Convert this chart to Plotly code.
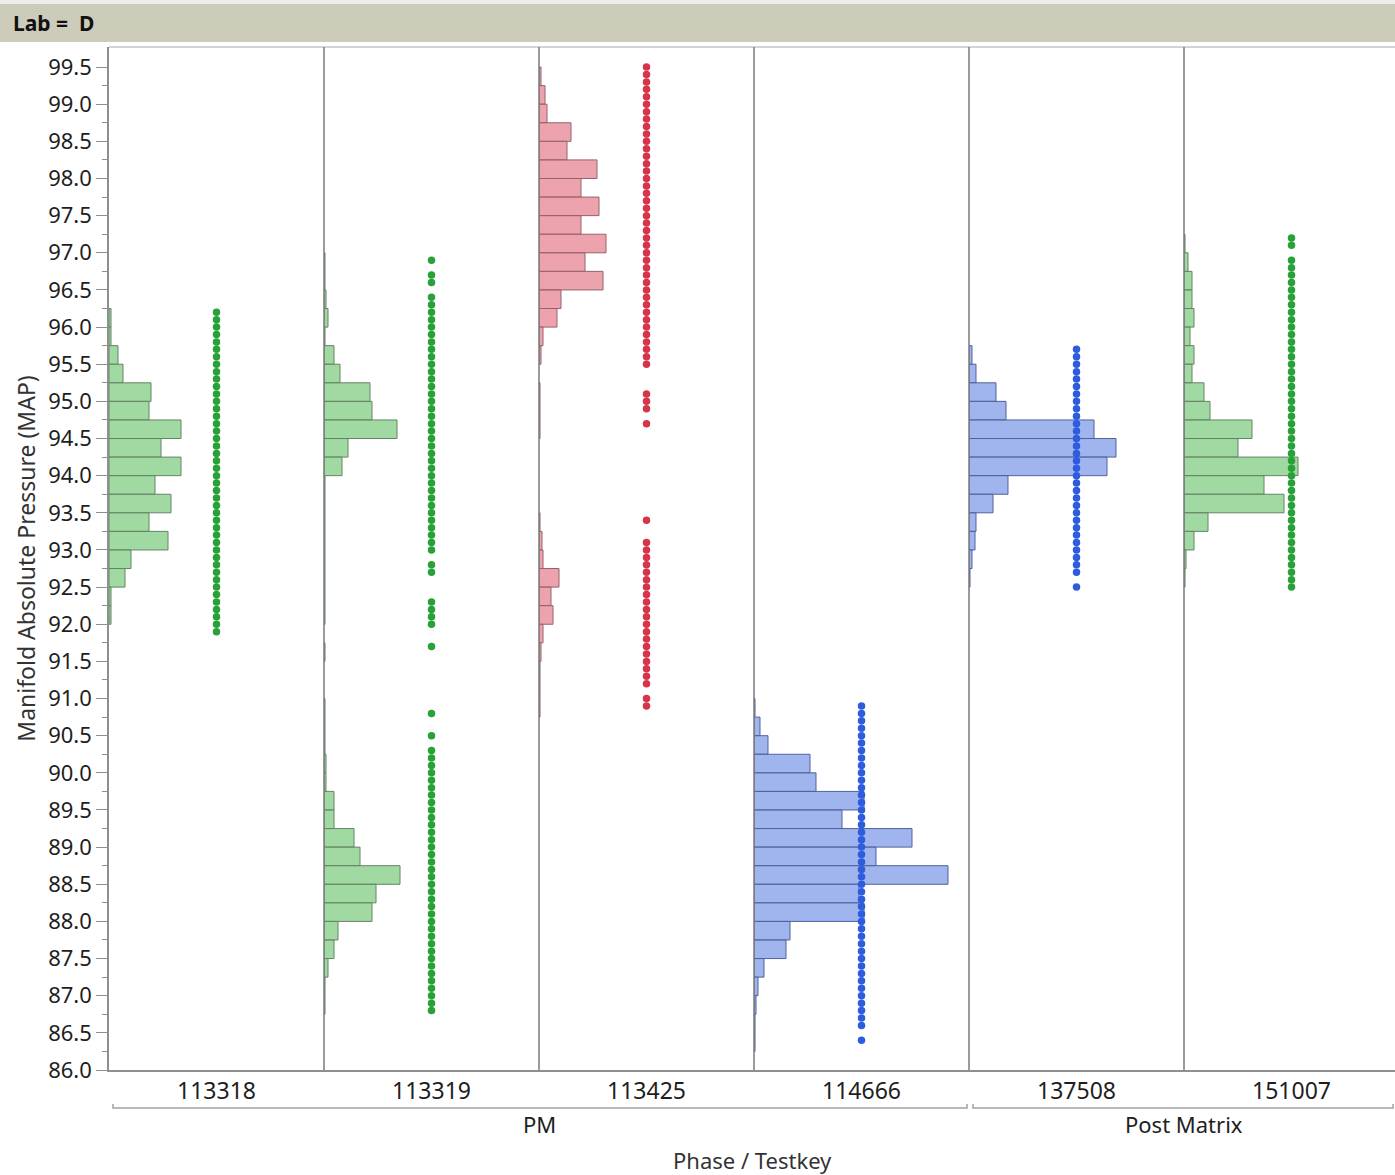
import plotly.graph_objects as go
from plotly.subplots import make_subplots

# ---------------- data ----------------
testkeys = ["113318", "113319", "113425", "114666", "137508", "151007"]
phases = ["PM", "PM", "PM", "PM", "Post Matrix", "Post Matrix"]

BIN_WIDTH = 0.25

# Histogram counts per testkey, listed from the highest bin downward.
# hist_top_* is the lower edge of the first (highest) bin.
hist_top_113318 = 96.0
hist_113318 = [2, 2, 9, 14, 42, 40, 72, 52, 72, 46, 62, 40, 59, 22, 16, 2, 2]

hist_top_113319 = 96.75
hist_113319 = [1, 1, 2, 4, 1, 10, 16, 46, 48, 73, 24, 18, 1, 1, 1, 1, 1, 1, 1, 1,
               0, 1, 0, 0, 1, 1, 1, 2, 2, 10, 10, 30, 36, 76, 52, 48, 14, 10, 4, 1, 1]

hist_top_113425 = 99.25
hist_113425 = [2, 6, 8, 32, 28, 58, 42, 60, 42, 67, 46, 64, 22, 18, 4, 2, 0, 1, 1, 1,
               0, 0, 0, 0, 1, 3, 4, 20, 12, 14, 4, 2, 1, 1, 1]

hist_top_114666 = 90.75
hist_114666 = [1, 6, 14, 56, 62, 110, 88, 158, 122, 194, 105, 110, 36, 32, 10, 4, 2, 1, 1]

hist_top_137508 = 95.5
hist_137508 = [3, 7, 27, 37, 125, 147, 138, 39, 24, 7, 6, 3, 1]

hist_top_151007 = 97.0
hist_151007 = [1, 4, 8, 8, 10, 6, 10, 8, 20, 26, 68, 54, 114, 80, 100, 24, 10, 2, 1]

# Distinct MAP readings per testkey
map_113318 = [96.2, 96.1, 96.0, 95.9, 95.8, 95.7, 95.6, 95.5, 95.4, 95.3, 95.2, 95.1,
              95.0, 94.9, 94.8, 94.7, 94.6, 94.5, 94.4, 94.3, 94.2, 94.1, 94.0, 93.9,
              93.8, 93.7, 93.6, 93.5, 93.4, 93.3, 93.2, 93.1, 93.0, 92.9, 92.8, 92.7,
              92.6, 92.5, 92.4, 92.3, 92.2, 92.1, 92.0, 91.9]

map_113319 = [96.9, 96.7, 96.6, 96.4, 96.3, 96.2, 96.1, 96.0, 95.9, 95.8, 95.7, 95.6,
              95.5, 95.4, 95.3, 95.2, 95.1, 95.0, 94.9, 94.8, 94.7, 94.6, 94.5, 94.4,
              94.3, 94.2, 94.1, 94.0, 93.9, 93.8, 93.7, 93.6, 93.5, 93.4, 93.3, 93.2,
              93.1, 93.0, 92.8, 92.7, 92.3, 92.2, 92.1, 92.0, 91.7, 90.8, 90.5, 90.3,
              90.2, 90.1, 90.0, 89.9, 89.8, 89.7, 89.6, 89.5, 89.4, 89.3, 89.2, 89.1,
              89.0, 88.9, 88.8, 88.7, 88.6, 88.5, 88.4, 88.3, 88.2, 88.1, 88.0, 87.9,
              87.8, 87.7, 87.6, 87.5, 87.4, 87.3, 87.2, 87.1, 87.0, 86.9, 86.8]

map_113425 = [99.5, 99.4, 99.3, 99.2, 99.1, 99.0, 98.9, 98.8, 98.7, 98.6, 98.5, 98.4,
              98.3, 98.2, 98.1, 98.0, 97.9, 97.8, 97.7, 97.6, 97.5, 97.4, 97.3, 97.2,
              97.1, 97.0, 96.9, 96.8, 96.7, 96.6, 96.5, 96.4, 96.3, 96.2, 96.1, 96.0,
              95.9, 95.8, 95.7, 95.6, 95.5, 95.1, 95.0, 94.9, 94.7, 93.4, 93.1, 93.0,
              92.9, 92.8, 92.7, 92.6, 92.5, 92.4, 92.3, 92.2, 92.1, 92.0, 91.9, 91.8,
              91.7, 91.6, 91.5, 91.4, 91.3, 91.2, 91.0, 90.9]

map_114666 = [90.9, 90.8, 90.7, 90.6, 90.5, 90.4, 90.3, 90.2, 90.1, 90.0, 89.9, 89.8,
              89.7, 89.6, 89.5, 89.4, 89.3, 89.2, 89.1, 89.0, 88.9, 88.8, 88.7, 88.6,
              88.5, 88.4, 88.3, 88.2, 88.1, 88.0, 87.9, 87.8, 87.7, 87.6, 87.5, 87.4,
              87.3, 87.2, 87.1, 87.0, 86.9, 86.8, 86.7, 86.6, 86.4]

map_137508 = [95.7, 95.6, 95.5, 95.4, 95.3, 95.2, 95.1, 95.0, 94.9, 94.8, 94.7, 94.6,
              94.5, 94.4, 94.3, 94.2, 94.1, 94.0, 93.9, 93.8, 93.7, 93.6, 93.5, 93.4,
              93.3, 93.2, 93.1, 93.0, 92.9, 92.8, 92.7, 92.5]

map_151007 = [97.2, 97.1, 96.9, 96.8, 96.7, 96.6, 96.5, 96.4, 96.3, 96.2, 96.1, 96.0,
              95.9, 95.8, 95.7, 95.6, 95.5, 95.4, 95.3, 95.2, 95.1, 95.0, 94.9, 94.8,
              94.7, 94.6, 94.5, 94.4, 94.3, 94.2, 94.1, 94.0, 93.9, 93.8, 93.7, 93.6,
              93.5, 93.4, 93.3, 93.2, 93.1, 93.0, 92.9, 92.8, 92.7, 92.6, 92.5]

y_tick_labels = ["86.0", "86.5", "87.0", "87.5", "88.0", "88.5", "89.0", "89.5",
                 "90.0", "90.5", "91.0", "91.5", "92.0", "92.5", "93.0", "93.5",
                 "94.0", "94.5", "95.0", "95.5", "96.0", "96.5", "97.0", "97.5",
                 "98.0", "98.5", "99.0", "99.5"]

histograms = {
    "113318": (hist_top_113318, hist_113318),
    "113319": (hist_top_113319, hist_113319),
    "113425": (hist_top_113425, hist_113425),
    "114666": (hist_top_114666, hist_114666),
    "137508": (hist_top_137508, hist_137508),
    "151007": (hist_top_151007, hist_151007),
}
readings = {
    "113318": map_113318, "113319": map_113319, "113425": map_113425,
    "114666": map_114666, "137508": map_137508, "151007": map_151007,
}

# ---------------- styling ----------------
PALETTES = {
    "green": dict(fill="rgba(128,204,131,0.75)", edge="rgb(100,132,100)", dot="rgb(40,162,56)"),
    "red": dict(fill="rgba(230,132,146,0.75)", edge="rgb(150,98,106)", dot="rgb(214,52,75)"),
    "blue": dict(fill="rgba(128,155,231,0.75)", edge="rgb(80,98,158)", dot="rgb(45,92,222)"),
}
panel_palette = {"113318": "green", "113319": "green", "113425": "red",
                 "114666": "blue", "137508": "blue", "151007": "green"}

FONT = "Noto Sans, Open Sans, sans-serif"
AXIS_GREY = "#8f8f8f"
TEXT = "#1e1e1e"

W, H = 1395, 1175
M_L, M_R, M_T, M_B = 109, 0, 47, 105
PLOT_W = W - M_L - M_R
PLOT_H = H - M_T - M_B
PANEL_PX = 215          # panel width in pixels; the last panel runs off the right edge
Y_RANGE = [86.0, 99.77]


def paper_y(py):
    return (H - M_B - py) / PLOT_H


def paper_x(px):
    return (px - M_L) / PLOT_W


n = len(testkeys)
domains = []
for i in range(n):
    a = i * PANEL_PX / PLOT_W
    b = min(1.0, (i + 1) * PANEL_PX / PLOT_W)
    domains.append((a, b))

fig = make_subplots(rows=1, cols=n, shared_yaxes=True, horizontal_spacing=0)

for i, key in enumerate(testkeys, start=1):
    pal = PALETTES[panel_palette[key]]
    top, counts = histograms[key]
    lows = [top - k * BIN_WIDTH for k in range(len(counts))]
    ys = [lo + BIN_WIDTH / 2 for lo, c in zip(lows, counts) if c > 0]
    xs = [c for c in counts if c > 0]

    vals = readings[key]
    fig.add_trace(go.Scatter(
        x=[PANEL_PX / 2] * len(vals), y=vals, mode="markers",
        marker=dict(size=7.5, color=pal["dot"], line=dict(width=0)),
        showlegend=False, hoverinfo="y"), row=1, col=i)

    fig.add_trace(go.Bar(
        orientation="h", y=ys, x=xs, base=0, width=BIN_WIDTH,
        marker=dict(color=pal["fill"], line=dict(color=pal["edge"], width=1)),
        showlegend=False), row=1, col=i)

fig.update_xaxes(showgrid=False, zeroline=False, showline=True,
                 linecolor=AXIS_GREY, linewidth=1.5, ticks="",
                 tickfont=dict(family=FONT, size=23, color=TEXT), fixedrange=True)
for i, key in enumerate(testkeys, start=1):
    a, b = domains[i - 1]
    fig.update_xaxes(domain=[a, b], range=[0, (b - a) * PLOT_W],
                     tickvals=[PANEL_PX / 2], ticktext=[key], row=1, col=i)

y_tick_values = [float(t) for t in y_tick_labels]
fig.update_yaxes(range=Y_RANGE, showgrid=False, zeroline=False, fixedrange=True)
fig.update_yaxes(
    row=1, col=1, tickmode="array", tickvals=y_tick_values, ticktext=y_tick_labels,
    ticks="outside", ticklen=11, tickwidth=1, tickcolor=AXIS_GREY,
    showline=True, linecolor=AXIS_GREY, linewidth=1.5,
    minor=dict(tickmode="array", tickvals=[v + 0.25 for v in y_tick_values[:-1]],
               ticks="outside", ticklen=5, tickcolor=AXIS_GREY),
    tickfont=dict(family=FONT, size=22, color=TEXT),
    title=dict(text="Manifold Absolute Pressure (MAP)", standoff=6,
               font=dict(family=FONT, size=23, color="#333333")),
)

shapes = []
# header strip
shapes.append(dict(type="rect", xref="paper", yref="paper", x0=paper_x(0), x1=1.0,
                   y0=paper_y(4), y1=paper_y(0), fillcolor="#ececec", line=dict(width=0),
                   layer="below"))
shapes.append(dict(type="rect", xref="paper", yref="paper", x0=paper_x(0), x1=1.0,
                   y0=paper_y(42), y1=paper_y(4), fillcolor="#cdcbb9", line=dict(width=0),
                   layer="below"))
# plot frame top edge
shapes.append(dict(type="line", xref="paper", yref="paper", x0=0, x1=1, y0=1, y1=1,
                   line=dict(color="#c4c4c4", width=1.5)))
# panel dividers
for i in range(2, n + 1):
    shapes.append(dict(type="line", xref=f"x{i} domain", yref="paper", x0=0, x1=0,
                       y0=0, y1=1, line=dict(color="#7a7a7a", width=1.5)))

annotations = []
# phase brackets under the testkey labels
groups = []
for idx, ph in enumerate(phases):
    if groups and groups[-1][0] == ph:
        groups[-1][2] = idx
    else:
        groups.append([ph, idx, idx])
inset = 4 / PLOT_W
yb, yt = paper_y(1108), paper_y(1104)
for ph, a, b in groups:
    x0 = domains[a][0] + inset
    x1 = min(domains[b][0] + PANEL_PX / PLOT_W, 1.0) - inset / 2
    xc = (domains[a][0] + domains[b][0] + PANEL_PX / PLOT_W) / 2
    shapes.append(dict(type="path", xref="paper", yref="paper",
                       path=f"M {x0},{yt} L {x0},{yb} L {x1},{yb} L {x1},{yt}",
                       line=dict(color="#a3a3a3", width=1.5)))
    annotations.append(dict(text=ph, xref="paper", yref="paper", x=xc,
                            y=paper_y(1124), xanchor="center", yanchor="middle",
                            showarrow=False, font=dict(family=FONT, size=22, color=TEXT)))

annotations.append(dict(text="Phase / Testkey", xref="paper", yref="paper", x=0.5,
                        y=paper_y(1160), xanchor="center", yanchor="middle",
                        showarrow=False, font=dict(family=FONT, size=22, color="#333333")))
annotations.append(dict(text="<b>Lab = &nbsp;D</b>", xref="paper", yref="paper",
                        x=paper_x(11), y=paper_y(23), xanchor="left", yanchor="middle",
                        showarrow=False, font=dict(family=FONT, size=21, color="#111111")))

fig.update_layout(
    width=W, height=H, margin=dict(l=M_L, r=M_R, t=M_T, b=M_B, pad=0),
    paper_bgcolor="white", plot_bgcolor="white", barmode="overlay",
    shapes=shapes, annotations=annotations, font=dict(family=FONT),
)

fig.write_html("out.html")
